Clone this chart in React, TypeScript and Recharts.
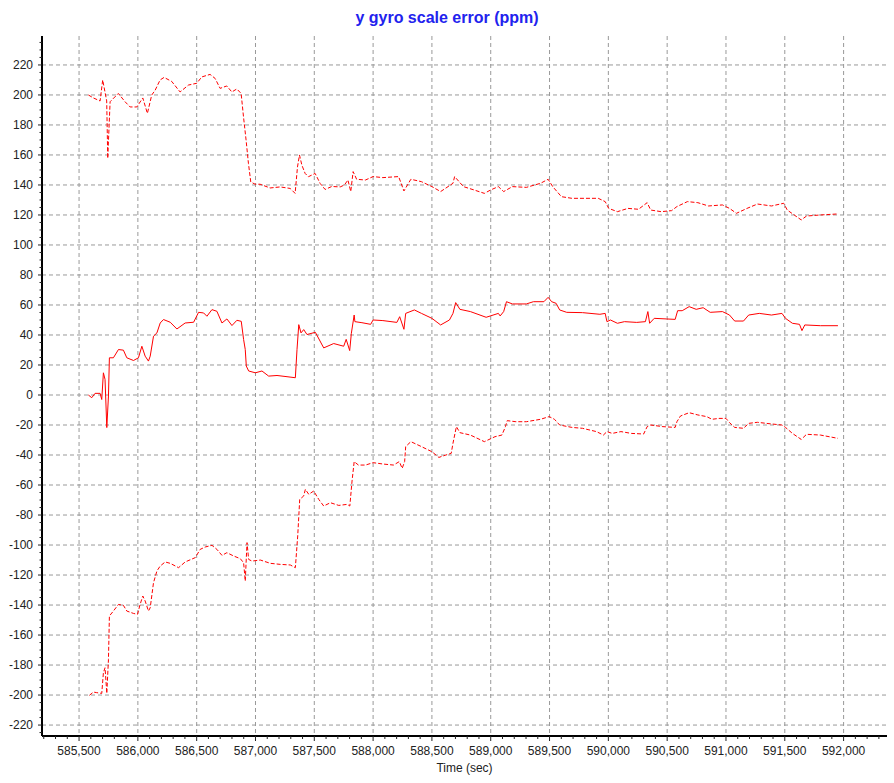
import { LineChart, Line, XAxis, YAxis, CartesianGrid } from "recharts";

// upper trace (dashed)
const upperTime = [
  585579, 585622, 585679, 585701, 585735, 585744, 585764, 585834, 585891, 585934,
  585991, 586042, 586081, 586118, 586146, 586189, 586223, 586288, 586359, 586430,
  586501, 586543, 586614, 586657, 586699, 586756, 586799, 586841, 586878, 586898,
  586920, 586940, 586960, 586997, 587039, 587124, 587210, 587295, 587337, 587357,
  587374, 587394, 587422, 587450, 587507, 587550, 587592, 587649, 587720, 587756,
  587786, 587810, 587830, 587860, 587935, 588000, 588083, 588217, 588262, 588321,
  588411, 588500, 588574, 588679, 588693, 588768, 588857, 588946, 589000, 589065,
  589110, 589184, 589303, 589423, 589488, 589527, 589601, 589690, 589810, 589914,
  589973, 590003, 590077, 590167, 590256, 590330, 590360, 590449, 590538, 590583,
  590672, 590761, 590851, 590970, 591030, 591089, 591179, 591268, 591387, 591491,
  591521, 591580, 591640, 591685, 591803, 591952,
];
const upperValue = [
  200, 198, 196, 210, 196, 157.7, 195.5, 201, 195.5, 192,
  192, 198, 187.7, 200, 203, 210, 211.7, 209, 202, 206.6,
  207.8, 212, 213.7, 211, 204.4, 206, 202, 204, 201, 185.5,
  170, 154.4, 142, 140.5, 140.5, 138, 138.7, 137.7, 134.4, 152,
  160, 153.3, 147.7, 145.5, 147.7, 141, 137, 139, 138.7, 140,
  143.3, 135.6, 148.9, 143.8, 143.3, 145.6, 144.9, 145.6, 136, 143.8,
  142.2, 138.9, 135.6, 141.1, 145.6, 138.9, 136.7, 134.4, 136.7, 138.9,
  135.6, 138.9, 138.4, 141.1, 143.8, 138.9, 132.2, 131.1, 131.1, 131.1,
  128.9, 124.4, 122.2, 124.4, 123.8, 128.2, 123.3, 122.2, 122.9, 125.6,
  128.9, 128.2, 126, 126.7, 124.4, 121.1, 124.4, 127.3, 126, 127.8,
  123.3, 120, 116.7, 119.3, 120, 120.7,
];

// middle trace (solid)
const middleTime = [
  585579, 585608, 585636, 585679, 585693, 585707, 585721, 585736, 585750, 585758,
  585792, 585835, 585877, 585906, 585963, 586005, 586034, 586062, 586090, 586105,
  586133, 586162, 586190, 586218, 586275, 586332, 586402, 586474, 586516, 586559,
  586587, 586630, 586672, 586715, 586757, 586800, 586842, 586879, 586899, 586913,
  586922, 586942, 586999, 587055, 587112, 587183, 587268, 587339, 587353, 587368,
  587387, 587410, 587438, 587509, 587580, 587665, 587750, 587771, 587801, 587815,
  587839, 587845, 587905, 587979, 588000, 588083, 588202, 588226, 588262, 588277,
  588351, 588411, 588500, 588574, 588649, 588679, 588702, 588738, 588827, 588961,
  589065, 589080, 589110, 589134, 589184, 589303, 589363, 589452, 589488, 589518,
  589556, 589586, 589646, 589780, 589928, 589973, 589988, 590018, 590077, 590137,
  590241, 590315, 590336, 590351, 590390, 590494, 590568, 590589, 590628, 590687,
  590747, 590806, 590866, 590970, 591030, 591074, 591149, 591193, 591283, 591387,
  591476, 591506, 591565, 591625, 591646, 591670, 591803, 591952,
];
const middleValue = [
  0, -1.8, 1.1, 1.1, -3, 14.8, 10.4, -21.7, -0.7, 24.8,
  24.8, 30.3, 29.9, 24.8, 23, 24.8, 32.5, 25.9, 22.6, 25.9,
  39.2, 41.4, 48, 50.3, 48.5, 44, 48, 48.5, 55.1, 54.7,
  52.5, 56.9, 55.8, 48, 50.7, 46.3, 49.8, 49.1, 37, 30.3,
  19.3, 16, 14.8, 16, 12.6, 13, 12.2, 11.5, 30.3, 46.9,
  41.4, 43.6, 40.3, 41.8, 31.4, 34.3, 32.5, 37.1, 29.6, 41.1,
  53.3, 48.9, 48.2, 47.1, 50, 49.6, 48.4, 52.2, 43.8, 54.4,
  56.7, 54.4, 51.1, 46.7, 50, 54.4, 61.6, 57.1, 55.6, 51.8,
  54.4, 52.7, 55.6, 62.2, 60.7, 60.7, 62.2, 62.2, 65.1, 62.2,
  61.1, 56.7, 55.1, 54.9, 53.8, 54.4, 48.9, 50, 47.8, 48.9,
  48.4, 48.9, 55.6, 47.8, 51.1, 50.7, 50.4, 56.2, 56.2, 58.9,
  57.1, 58.2, 55.1, 55.6, 53.3, 49.3, 49.3, 53.3, 54.4, 53.3,
  54.4, 51.1, 47.8, 47.1, 42.9, 46.7, 46.2, 46.2,
];

// lower trace (dashed)
const lowerTime = [
  585588, 585622, 585650, 585693, 585707, 585721, 585736, 585750, 585758, 585792,
  585835, 585877, 585906, 585963, 585997, 586019, 586042, 586062, 586090, 586105,
  586133, 586162, 586190, 586232, 586275, 586346, 586402, 586488, 586530, 586573,
  586630, 586672, 586715, 586757, 586814, 586871, 586899, 586913, 586928, 586942,
  586970, 587041, 587126, 587211, 587296, 587339, 587359, 587376, 587410, 587424,
  587453, 587495, 587538, 587580, 587637, 587708, 587779, 587802, 587821, 587839,
  587875, 587935, 588000, 588083, 588173, 588223, 588247, 588268, 588277, 588321,
  588411, 588500, 588559, 588619, 588664, 588679, 588708, 588738, 588827, 588946,
  589036, 589095, 589125, 589140, 589214, 589303, 589423, 589497, 589542, 589586,
  589690, 589780, 589899, 589958, 589988, 590033, 590107, 590196, 590300, 590330,
  590360, 590464, 590568, 590583, 590613, 590687, 590761, 590836, 590881, 590940,
  591000, 591030, 591074, 591149, 591193, 591268, 591387, 591476, 591506, 591565,
  591640, 591685, 591803, 591952,
];
const lowerValue = [
  -200.2, -198, -198.4, -198.9, -185.1, -181.8, -198.9, -176.2, -147.3, -144,
  -139.6, -140.2, -144, -145.6, -146.2, -139.6, -134, -137.3, -144, -141.8,
  -125.1, -117.3, -114, -111.3, -112.2, -115.1, -111.3, -108.4, -102.9, -101.3,
  -100.2, -102.9, -106.9, -105.1, -107.3, -109.1, -111.8, -124, -98.4, -109.6,
  -110.7, -110, -112.2, -112.9, -113.3, -115.1, -94, -69.6, -67.3, -62.9,
  -66.2, -64, -69.6, -74, -71.8, -73.6, -72.9, -74, -57.3, -44.4,
  -46.7, -46.7, -45.1, -46, -46.7, -44.4, -48.9, -44.4, -34.4, -31.1,
  -34.4, -37.8, -41.6, -40, -38.9, -32.2, -21.1, -25.1, -26.7, -31.1,
  -27.8, -26.7, -21.1, -17.1, -17.8, -17.8, -16.2, -14.4, -16.2, -20,
  -21.6, -22.2, -24.4, -26.7, -24.4, -25.6, -24.4, -25.6, -26, -21.1,
  -20, -21.1, -21.6, -17.8, -14, -11.8, -13.3, -14.4, -16.2, -15.6,
  -15.6, -18.4, -21.6, -22.2, -18.9, -18.2, -19.3, -20, -21.6, -25.6,
  -29.6, -26.2, -26.7, -28.9,
];

const xMajorTicks = [
  585500, 586000, 586500, 587000, 587500, 588000, 588500,
  589000, 589500, 590000, 590500, 591000, 591500, 592000,
];
const yMajorTicks = [
  -220, -200, -180, -160, -140, -120, -100, -80, -60, -40, -20, 0,
  20, 40, 60, 80, 100, 120, 140, 160, 180, 200, 220,
];

const X_DOMAIN = [585185, 592369];
const Y_DOMAIN = [-227.3, 239.3];

// minor ticks: every 100 s on x, every 5 ppm on y
const xMinorTicks: number[] = [];
for (let t = 585200; t <= 592300; t += 100) xMinorTicks.push(t);
const yMinorTicks: number[] = [];
for (let v = -225; v <= 235; v += 5) yMinorTicks.push(v);

const toSeries = (ts: number[], vs: number[]) => ts.map((t, i) => ({ t, v: vs[i] }));
const upper = toSeries(upperTime, upperValue);
const middle = toSeries(middleTime, middleValue);
const lower = toSeries(lowerTime, lowerValue);

const fmt = (n: number) => String(n).replace(/\B(?=(\d{3})+(?!\d))/g, ",");

const XTick = (props: any) => {
  const { x, y, payload } = props;
  const major = payload.value % 500 === 0;
  return (
    <g>
      <line x1={x} y1={y} x2={x} y2={y + (major ? 5 : 3)} stroke="#222" />
      {major && (
        <text x={x} y={y + 19} textAnchor="middle" fontSize={12} fill="#222">
          {fmt(payload.value)}
        </text>
      )}
    </g>
  );
};

const YTick = (props: any) => {
  const { x, y, payload } = props;
  const major = payload.value % 20 === 0;
  return (
    <g>
      <line x1={x - (major ? 4 : 2.5)} y1={y} x2={x} y2={y} stroke="#222" />
      {major && (
        <text x={x - 9} y={y + 4} textAnchor="end" fontSize={12} fill="#222">
          {payload.value}
        </text>
      )}
    </g>
  );
};

export default function App() {
  return (
    <div
      style={{
        position: "absolute",
        left: 0,
        top: 0,
        width: 894,
        height: 783,
        background: "#fff",
        fontFamily: "'Liberation Sans', Arial, sans-serif",
      }}
    >
      <div
        style={{
          position: "absolute",
          top: 8,
          left: 0,
          width: 894,
          textAlign: "center",
          fontSize: 16,
          lineHeight: "20px",
          fontWeight: "bold",
          color: "#2222ee",
        }}
      >
        y gyro scale error (ppm)
      </div>
      <LineChart width={894} height={783} margin={{ top: 36, right: 7, bottom: 7, left: 0 }}>
        <CartesianGrid
          stroke="#999"
          strokeDasharray="4 3"
          verticalValues={xMajorTicks}
          horizontalValues={yMajorTicks}
        />
        <XAxis
          dataKey="t"
          type="number"
          domain={X_DOMAIN}
          allowDataOverflow
          ticks={xMinorTicks}
          interval={0}
          tick={<XTick />}
          tickSize={0}
          tickMargin={0}
          tickLine={false}
          height={40}
          axisLine={{ stroke: "#000", strokeWidth: 2 }}
          label={{ value: "Time (sec)", position: "insideBottom", offset: 4, fill: "#222", fontSize: 12 }}
        />
        <XAxis
          xAxisId="frame"
          orientation="top"
          type="number"
          domain={X_DOMAIN}
          allowDataOverflow
          height={0}
          tick={false}
          tickLine={false}
          axisLine={{ stroke: "#555", strokeWidth: 1.5 }}
        />
        <YAxis
          type="number"
          domain={Y_DOMAIN}
          allowDataOverflow
          ticks={yMinorTicks}
          interval={0}
          tick={<YTick />}
          tickSize={0}
          tickMargin={0}
          tickLine={false}
          width={42}
          axisLine={{ stroke: "#000", strokeWidth: 2 }}
        />
        <YAxis
          yAxisId="frame"
          orientation="right"
          type="number"
          domain={Y_DOMAIN}
          allowDataOverflow
          width={0}
          tick={false}
          tickLine={false}
          axisLine={{ stroke: "#555", strokeWidth: 1.5 }}
        />
        <Line
          data={upper}
          dataKey="v"
          stroke="#ff0000"
          strokeWidth={1}
          strokeDasharray="4 2"
          dot={false}
          isAnimationActive={false}
        />
        <Line
          data={middle}
          dataKey="v"
          stroke="#ff0000"
          strokeWidth={1}
          dot={false}
          isAnimationActive={false}
        />
        <Line
          data={lower}
          dataKey="v"
          stroke="#ff0000"
          strokeWidth={1}
          strokeDasharray="4 2"
          dot={false}
          isAnimationActive={false}
        />
      </LineChart>
    </div>
  );
}
